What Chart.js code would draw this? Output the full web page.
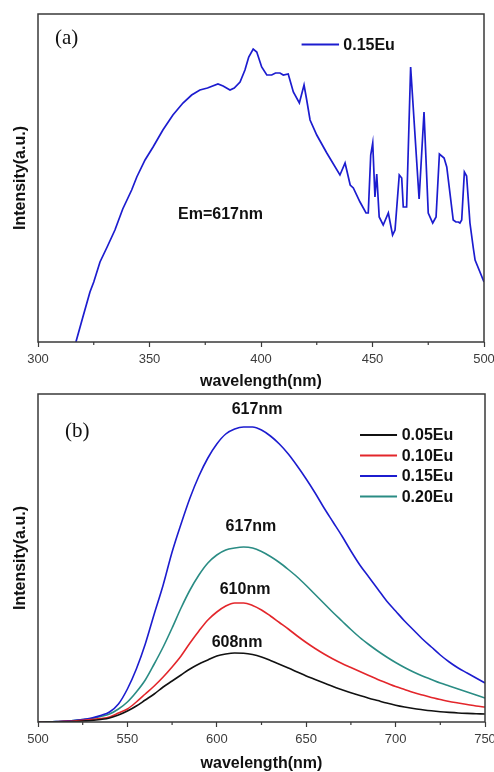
<!DOCTYPE html>
<html>
<head>
<meta charset="utf-8">
<script src="https://cdn.jsdelivr.net/npm/chart.js@4.4.1/dist/chart.umd.min.js"></script>
<style>
  html, body { margin: 0; padding: 0; background: #fff; }
  body { width: 494px; height: 772px; position: relative; overflow: hidden; }
  canvas { position: absolute; left: 0; }
  #chartA { top: 0; }
  #chartB { top: 390px; }
</style>
</head>
<body>
<canvas id="chartA" width="494" height="390"></canvas>
<canvas id="chartB" width="494" height="382"></canvas>
<script>
'use strict'

// (a) excitation spectrum of 0.15Eu, monitored at 617 nm
const excWave = [317, 320, 323.3, 325, 327.8, 331, 334.5, 338, 342, 344.3, 348, 351.6, 356, 360.5, 365, 368.9,
  372.6, 376, 380.7, 383, 386.1, 388, 390.6, 392.8, 394.5, 396.5, 398.1, 400.3, 402.6, 404.8, 406.5, 408.5,
  410, 412.2, 414.5, 417.2, 419.3, 420.5, 422, 425, 429.5, 435.4, 437.7, 440, 441.4, 444.4, 447.1,
  448.1, 449.2, 450.1, 451.1, 451.9, 453, 454.8, 457.1, 459, 460.1, 462, 463.1, 463.8, 465.3,
  467.1, 470.9, 473.1, 475, 477, 478.5, 480, 482.1, 483.3, 486.2, 487.4, 488.5, 489.2, 490, 491.2, 492.2,
  493.7, 495.2, 496, 500];
const excInt = [0, 24, 50, 60, 80, 95, 112, 133, 152, 165, 182, 195, 212, 227, 239, 247,
  252, 254, 258, 256, 252, 254, 260, 272, 285, 293, 290, 275, 267, 267, 269, 269,
  267, 268, 250, 239, 257, 242, 222, 207, 189, 167, 179, 157, 154, 140, 129,
  129, 187, 199, 145, 168, 125, 117, 129, 107, 112, 167, 164, 135, 135,
  275, 143, 230, 129, 119, 125, 188, 184, 175, 122, 120, 120, 119, 122, 170, 166,
  119, 94, 82, 60];

// (b) emission spectra of the four Eu contents
const emWave = [500, 505, 510, 515, 520, 525, 530, 535, 540, 545, 550, 555, 560, 565, 570, 575, 580, 585,
  590, 595, 600, 605, 610, 615, 620, 625, 630, 635, 640, 645, 650, 655, 660, 665, 670, 675, 680, 685,
  690, 695, 700, 705, 710, 715, 720, 725, 730, 735, 740, 745, 750];
const em005 = [0, 0.1, 0.2, 0.3, 0.5, 1, 1.5, 2.5, 4, 7, 11, 16, 22, 28, 35, 41, 47, 53,
  58, 62, 66, 68, 69, 68.8, 67.5, 65, 61.5, 57.8, 54, 50, 46, 42.5, 39, 35.5, 32.3, 29.2, 26.4, 23.8,
  21.4, 19, 16.8, 15, 13.5, 12.3, 11.2, 10.3, 9.6, 9, 8.6, 8.3, 8];
const em010 = [0, 0.1, 0.3, 0.6, 1, 1.6, 2.5, 3.5, 5, 9, 13, 20, 28, 36, 45, 55, 66, 79,
  91, 102, 110, 116, 119, 119, 116.5, 112, 106, 99.5, 93, 86, 79.5, 73.5, 68, 63, 58.5, 54.5, 50.5, 46.5,
  42.5, 39, 35.5, 32.5, 29.5, 27, 24.5, 22.5, 20.5, 19, 17.5, 16, 15];
const em015 = [0, 0.2, 0.5, 1, 1.5, 2.5, 4, 6.5, 10, 18, 33, 53, 78, 108, 137, 170, 198, 224,
  246, 264, 278, 288, 293, 295, 295, 292, 286, 278, 268, 256, 243, 229, 214, 200, 186, 171, 157, 145,
  133, 121, 111, 101, 92, 83, 75, 67, 60, 54, 49, 44, 39];
const em020 = [0, 0.2, 0.5, 1, 1.5, 2.4, 3.5, 5.5, 8, 13, 20, 30, 42, 58, 75, 94, 114, 132,
  147, 159, 167, 172, 174, 175, 174, 170.5, 165.5, 159.5, 152.5, 145, 136.5, 127.5, 118.5, 109.5, 101, 92.5, 84.5, 77.5,
  71, 65, 59.5, 54.5, 50, 46, 42.5, 39, 36, 33, 30, 27, 24];
const emNames = ['0.05Eu', '0.10Eu', '0.15Eu', '0.20Eu'];
const emColors = ['#111111', '#e3262b', '#1c1ccf', '#2a8c84'];
const peakText = ['617nm', '617nm', '610nm', '608nm'];

const frameColor = '#3a3a3a';
Chart.defaults.font.family = "'Liberation Sans', Arial, sans-serif";
Chart.defaults.color = '#3a3a3a';

const toPts = (xs, ys) => xs.map((v, i) => ({ x: v, y: ys[i] }));

// frame, minor ticks, legend and the text notes
const deco = {
  id: 'deco',
  afterDraw(chart, args, o) {
    const { ctx, chartArea: a, scales: { x, y } } = chart;
    ctx.save();
    ctx.strokeStyle = frameColor;
    ctx.lineWidth = 1.5;
    ctx.strokeRect(a.left, a.top, a.right - a.left, a.bottom - a.top);
    ctx.lineWidth = 1.2;
    for (let v = x.min + 25; v < x.max; v += 50) {
      const px = x.getPixelForValue(v);
      ctx.beginPath();
      ctx.moveTo(px, a.bottom);
      ctx.lineTo(px, a.bottom + 3);
      ctx.stroke();
    }
    ctx.textBaseline = 'middle';
    o.texts.forEach(t => {
      ctx.font = t.font;
      ctx.fillStyle = t.color || '#111';
      ctx.textAlign = t.align || 'left';
      ctx.fillText(t.text, x.getPixelForValue(t.x), y.getPixelForValue(t.y));
    });
    const lg = o.legend;
    ctx.font = 'bold 16px "Liberation Sans", Arial, sans-serif';
    ctx.textAlign = 'left';
    chart.data.datasets.forEach((ds, i) => {
      const py = y.getPixelForValue(lg.y[i]);
      ctx.strokeStyle = ds.borderColor;
      ctx.lineWidth = 2;
      ctx.beginPath();
      ctx.moveTo(x.getPixelForValue(lg.x0), py);
      ctx.lineTo(x.getPixelForValue(lg.x1), py);
      ctx.stroke();
      ctx.fillStyle = '#111';
      ctx.fillText(ds.label, x.getPixelForValue(lg.xt), py + 1);
    });
    ctx.restore();
  }
};

function axes(xmin, xmax, xh) {
  return {
    x: {
      type: 'linear', min: xmin, max: xmax,
      afterFit(s) { s.height = xh; s.paddingLeft = 0; s.paddingRight = 0; },
      ticks: { stepSize: 50, autoSkip: false, maxRotation: 0, padding: 5, color: '#3c3c3c', font: { size: 13 } },
      grid: { display: true, drawOnChartArea: false, drawTicks: true, tickLength: 5, tickColor: frameColor, tickWidth: 1.2 },
      border: { display: false },
      title: { display: true, text: 'wavelength(nm)', color: '#111', font: { size: 16, weight: 'bold', lineHeight: 1 }, padding: 0 }
    },
    y: {
      min: 0, max: 328,
      afterFit(s) { s.width = 38; s.paddingTop = 0; s.paddingBottom = 0; },
      ticks: { display: false },
      grid: { display: false },
      border: { display: false },
      title: { display: true, text: 'Intensity(a.u.)', color: '#111', font: { size: 16, weight: 'bold', lineHeight: 1 }, padding: { top: 13, bottom: 0 } }
    }
  };
}

const serif = '21px "Liberation Serif", "Times New Roman", serif';
const bold16 = 'bold 16px "Liberation Sans", Arial, sans-serif';

new Chart(document.getElementById('chartA'), {
  type: 'line',
  data: {
    datasets: [{
      label: '0.15Eu', data: toPts(excWave, excInt),
      borderColor: '#1c1ccf', borderWidth: 1.7, pointRadius: 0, tension: 0, fill: false
    }]
  },
  options: {
    responsive: false, animation: false,
    layout: { padding: { top: 14, right: 10, left: 0, bottom: 0 } },
    scales: axes(300, 500, 48),
    plugins: {
      legend: { display: false }, tooltip: { enabled: false },
      deco: {
        texts: [
          { text: '(a)', x: 307.6, y: 304, font: serif },
          { text: 'Em=617nm', x: 362.8, y: 127, font: bold16 }
        ],
        legend: { x0: 418.2, x1: 435, xt: 436.9, y: [297.5] }
      }
    }
  },
  plugins: [deco]
});

const emSeries = [em005, em010, em015, em020];
new Chart(document.getElementById('chartB'), {
  type: 'line',
  data: {
    datasets: emSeries.map((s, i) => ({
      label: emNames[i], data: toPts(emWave, s),
      borderColor: emColors[i], borderWidth: 1.6, pointRadius: 0,
      cubicInterpolationMode: 'monotone', fill: false
    }))
  },
  options: {
    responsive: false, animation: false,
    layout: { padding: { top: 4, right: 9, left: 0, bottom: 0 } },
    scales: axes(500, 750, 50),
    plugins: {
      legend: { display: false }, tooltip: { enabled: false },
      deco: {
        texts: [
          { text: '(b)', x: 515.1, y: 291, font: serif },
          { text: peakText[0], x: 622.5, y: 312, font: bold16, align: 'center' },
          { text: peakText[1], x: 619.1, y: 195, font: bold16, align: 'center' },
          { text: peakText[2], x: 615.8, y: 132, font: bold16, align: 'center' },
          { text: peakText[3], x: 611.3, y: 79, font: bold16, align: 'center' }
        ],
        legend: { x0: 680.1, x1: 700.8, xt: 703.4, y: [287, 266.5, 246, 225.5] }
      }
    }
  },
  plugins: [deco]
});
</script>
</body>
</html>
